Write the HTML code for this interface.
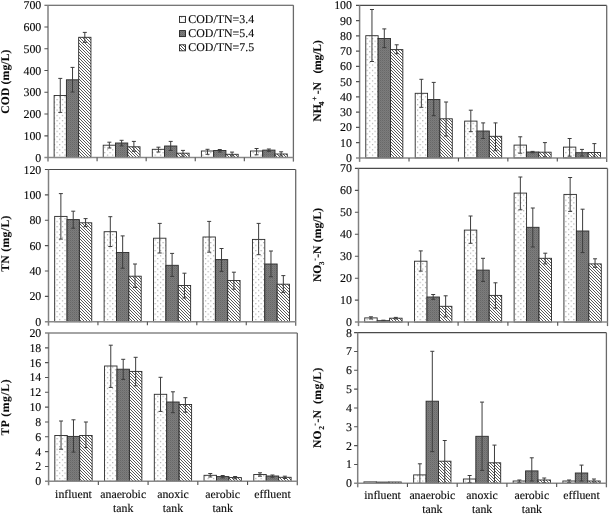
<!DOCTYPE html>
<html><head><meta charset="utf-8"><style>
html,body{margin:0;padding:0;background:#fff;}
svg{display:block;}
text{font-family:"Liberation Serif",serif;fill:#0a0a0a;stroke:#0a0a0a;stroke-width:0.12px;text-rendering:geometricPrecision;}
svg{will-change:transform;}
</style></head><body>
<svg width="609" height="515" viewBox="0 0 609 515">
<defs>
<pattern id="dots" patternUnits="userSpaceOnUse" width="5.3" height="5.3">
<rect width="5.3" height="5.3" fill="#fff"/>
<rect x="1" y="1" width="1" height="1" fill="#8a8a8a"/>
<rect x="3.65" y="3.65" width="1" height="1" fill="#8a8a8a"/>
</pattern>
<pattern id="gray" patternUnits="userSpaceOnUse" width="2" height="2">
<rect width="2" height="2" fill="#7c7c7c"/>
<rect width="1" height="1" fill="#686868"/>
<rect x="1" y="1" width="1" height="1" fill="#747474"/>
</pattern>
<pattern id="hatch" patternUnits="userSpaceOnUse" width="3" height="3">
<rect width="3" height="3" fill="#fff"/>
<path d="M-1 -1L4 4M-1 2L1 4M2 -1L4 1" stroke="#505050" stroke-width="0.95"/>
</pattern>
</defs>
<rect width="609" height="515" fill="#fff"/>
<rect x="54.13" y="95.5" width="12.27" height="62.1" fill="url(#dots)" stroke="#2a2a2a" stroke-width="0.9"/>
<rect x="66.41" y="79.8" width="12.27" height="77.8" fill="url(#gray)" stroke="#2a2a2a" stroke-width="0.9"/>
<rect x="78.67" y="37.3" width="12.27" height="120.3" fill="url(#hatch)" stroke="#2a2a2a" stroke-width="0.9"/>
<path d="M60.27 78.4V112.4M58.27 78.4H62.27M58.27 112.4H62.27" stroke="#3c3c3c" stroke-width="1" fill="none"/>
<path d="M72.54 67.4V92M70.54 67.4H74.54M70.54 92H74.54" stroke="#3c3c3c" stroke-width="1" fill="none"/>
<path d="M84.81 32.4V42.4M82.81 32.4H86.81M82.81 42.4H86.81" stroke="#3c3c3c" stroke-width="1" fill="none"/>
<rect x="103.22" y="145.2" width="12.27" height="12.4" fill="url(#dots)" stroke="#2a2a2a" stroke-width="0.9"/>
<rect x="115.48" y="143" width="12.27" height="14.6" fill="url(#gray)" stroke="#2a2a2a" stroke-width="0.9"/>
<rect x="127.75" y="146.8" width="12.27" height="10.8" fill="url(#hatch)" stroke="#2a2a2a" stroke-width="0.9"/>
<path d="M109.35 142.2V148M107.35 142.2H111.35M107.35 148H111.35" stroke="#3c3c3c" stroke-width="1" fill="none"/>
<path d="M121.62 140.3V145.9M119.62 140.3H123.62M119.62 145.9H123.62" stroke="#3c3c3c" stroke-width="1" fill="none"/>
<path d="M133.89 141.4V151.3M131.89 141.4H135.89M131.89 151.3H135.89" stroke="#3c3c3c" stroke-width="1" fill="none"/>
<rect x="152.29" y="149.3" width="12.27" height="8.3" fill="url(#dots)" stroke="#2a2a2a" stroke-width="0.9"/>
<rect x="164.56" y="146" width="12.27" height="11.6" fill="url(#gray)" stroke="#2a2a2a" stroke-width="0.9"/>
<rect x="176.83" y="153.2" width="12.27" height="4.4" fill="url(#hatch)" stroke="#2a2a2a" stroke-width="0.9"/>
<path d="M158.43 147.2V152M156.43 147.2H160.43M156.43 152H160.43" stroke="#3c3c3c" stroke-width="1" fill="none"/>
<path d="M170.7 141.4V150.4M168.7 141.4H172.7M168.7 150.4H172.7" stroke="#3c3c3c" stroke-width="1" fill="none"/>
<path d="M182.97 150.4V156.2M180.97 150.4H184.97M180.97 156.2H184.97" stroke="#3c3c3c" stroke-width="1" fill="none"/>
<rect x="201.38" y="151" width="12.27" height="6.6" fill="url(#dots)" stroke="#2a2a2a" stroke-width="0.9"/>
<rect x="213.65" y="150.5" width="12.27" height="7.1" fill="url(#gray)" stroke="#2a2a2a" stroke-width="0.9"/>
<rect x="225.91" y="154.3" width="12.27" height="3.3" fill="url(#hatch)" stroke="#2a2a2a" stroke-width="0.9"/>
<path d="M207.51 149.3V154.3M205.51 149.3H209.51M205.51 154.3H209.51" stroke="#3c3c3c" stroke-width="1" fill="none"/>
<path d="M219.78 149.5V152M217.78 149.5H221.78M217.78 152H221.78" stroke="#3c3c3c" stroke-width="1" fill="none"/>
<path d="M232.05 152.1V156M230.05 152.1H234.05M230.05 156H234.05" stroke="#3c3c3c" stroke-width="1" fill="none"/>
<rect x="250.45" y="151" width="12.27" height="6.6" fill="url(#dots)" stroke="#2a2a2a" stroke-width="0.9"/>
<rect x="262.72" y="150.1" width="12.27" height="7.5" fill="url(#gray)" stroke="#2a2a2a" stroke-width="0.9"/>
<rect x="275" y="154" width="12.27" height="3.6" fill="url(#hatch)" stroke="#2a2a2a" stroke-width="0.9"/>
<path d="M256.59 148.5V154.8M254.59 148.5H258.59M254.59 154.8H258.59" stroke="#3c3c3c" stroke-width="1" fill="none"/>
<path d="M268.86 149V151.3M266.86 149H270.86M266.86 151.3H270.86" stroke="#3c3c3c" stroke-width="1" fill="none"/>
<path d="M281.13 151.8V156M279.13 151.8H283.13M279.13 156H283.13" stroke="#3c3c3c" stroke-width="1" fill="none"/>
<path d="M44.4 5.2H293.4" stroke="#4a4a4a" stroke-width="1.15" fill="none"/>
<path d="M293.4 5.2V161.6" stroke="#6a6a6a" stroke-width="1.3" fill="none"/>
<path d="M44.4 157.6H293.4" stroke="#8a8a8a" stroke-width="1.5" fill="none"/>
<path d="M48 5.2V161.6" stroke="#808080" stroke-width="1.5" fill="none"/>
<path d="M44.4 135.83H48M44.4 114.06H48M44.4 92.29H48M44.4 70.51H48M44.4 48.74H48M44.4 26.97H48M97.08 157.6V161.2M146.16 157.6V161.2M195.24 157.6V161.2M244.32 157.6V161.2" stroke="#505050" stroke-width="1.1" fill="none"/>
<text x="41.3" y="161.6" text-anchor="end" font-size="11.9">0</text>
<text x="41.3" y="139.83" text-anchor="end" font-size="11.9">100</text>
<text x="41.3" y="118.06" text-anchor="end" font-size="11.9">200</text>
<text x="41.3" y="96.29" text-anchor="end" font-size="11.9">300</text>
<text x="41.3" y="74.51" text-anchor="end" font-size="11.9">400</text>
<text x="41.3" y="52.74" text-anchor="end" font-size="11.9">500</text>
<text x="41.3" y="30.97" text-anchor="end" font-size="11.9">600</text>
<text x="41.3" y="9.2" text-anchor="end" font-size="11.9">700</text>
<rect x="54.68" y="216.4" width="12.36" height="105.3" fill="url(#dots)" stroke="#2a2a2a" stroke-width="0.9"/>
<rect x="67.04" y="219.6" width="12.36" height="102.1" fill="url(#gray)" stroke="#2a2a2a" stroke-width="0.9"/>
<rect x="79.4" y="222.8" width="12.36" height="98.9" fill="url(#hatch)" stroke="#2a2a2a" stroke-width="0.9"/>
<path d="M60.86 193.6V239.1M58.86 193.6H62.86M58.86 239.1H62.86" stroke="#3c3c3c" stroke-width="1" fill="none"/>
<path d="M73.22 211.2V228.2M71.22 211.2H75.22M71.22 228.2H75.22" stroke="#3c3c3c" stroke-width="1" fill="none"/>
<path d="M85.58 218.6V226.6M83.58 218.6H87.58M83.58 226.6H87.58" stroke="#3c3c3c" stroke-width="1" fill="none"/>
<rect x="104.12" y="231.7" width="12.36" height="90" fill="url(#dots)" stroke="#2a2a2a" stroke-width="0.9"/>
<rect x="116.48" y="252.5" width="12.36" height="69.2" fill="url(#gray)" stroke="#2a2a2a" stroke-width="0.9"/>
<rect x="128.84" y="276.2" width="12.36" height="45.5" fill="url(#hatch)" stroke="#2a2a2a" stroke-width="0.9"/>
<path d="M110.3 216.7V246.5M108.3 216.7H112.3M108.3 246.5H112.3" stroke="#3c3c3c" stroke-width="1" fill="none"/>
<path d="M122.66 235.9V268.2M120.66 235.9H124.66M120.66 268.2H124.66" stroke="#3c3c3c" stroke-width="1" fill="none"/>
<path d="M135.02 264V287.4M133.02 264H137.02M133.02 287.4H137.02" stroke="#3c3c3c" stroke-width="1" fill="none"/>
<rect x="153.56" y="238.2" width="12.36" height="83.5" fill="url(#dots)" stroke="#2a2a2a" stroke-width="0.9"/>
<rect x="165.92" y="265.3" width="12.36" height="56.4" fill="url(#gray)" stroke="#2a2a2a" stroke-width="0.9"/>
<rect x="178.28" y="285.5" width="12.36" height="36.2" fill="url(#hatch)" stroke="#2a2a2a" stroke-width="0.9"/>
<path d="M159.74 223.4V253M157.74 223.4H161.74M157.74 253H161.74" stroke="#3c3c3c" stroke-width="1" fill="none"/>
<path d="M172.1 253.4V276.4M170.1 253.4H174.1M170.1 276.4H174.1" stroke="#3c3c3c" stroke-width="1" fill="none"/>
<path d="M184.46 273.2V298M182.46 273.2H186.46M182.46 298H186.46" stroke="#3c3c3c" stroke-width="1" fill="none"/>
<rect x="203" y="237" width="12.36" height="84.7" fill="url(#dots)" stroke="#2a2a2a" stroke-width="0.9"/>
<rect x="215.36" y="259.6" width="12.36" height="62.1" fill="url(#gray)" stroke="#2a2a2a" stroke-width="0.9"/>
<rect x="227.72" y="280.5" width="12.36" height="41.2" fill="url(#hatch)" stroke="#2a2a2a" stroke-width="0.9"/>
<path d="M209.18 221.4V252.2M207.18 221.4H211.18M207.18 252.2H211.18" stroke="#3c3c3c" stroke-width="1" fill="none"/>
<path d="M221.54 248.5V271.4M219.54 248.5H223.54M219.54 271.4H223.54" stroke="#3c3c3c" stroke-width="1" fill="none"/>
<path d="M233.9 272.2V289.2M231.9 272.2H235.9M231.9 289.2H235.9" stroke="#3c3c3c" stroke-width="1" fill="none"/>
<rect x="252.44" y="239.4" width="12.36" height="82.3" fill="url(#dots)" stroke="#2a2a2a" stroke-width="0.9"/>
<rect x="264.8" y="264" width="12.36" height="57.7" fill="url(#gray)" stroke="#2a2a2a" stroke-width="0.9"/>
<rect x="277.16" y="284.2" width="12.36" height="37.5" fill="url(#hatch)" stroke="#2a2a2a" stroke-width="0.9"/>
<path d="M258.62 223.4V254.7M256.62 223.4H260.62M256.62 254.7H260.62" stroke="#3c3c3c" stroke-width="1" fill="none"/>
<path d="M270.98 251V276.8M268.98 251H272.98M268.98 276.8H272.98" stroke="#3c3c3c" stroke-width="1" fill="none"/>
<path d="M283.34 275.6V292.4M281.34 275.6H285.34M281.34 292.4H285.34" stroke="#3c3c3c" stroke-width="1" fill="none"/>
<path d="M44.9 169.5H295.7" stroke="#4a4a4a" stroke-width="1.15" fill="none"/>
<path d="M295.7 169.5V325.7" stroke="#6a6a6a" stroke-width="1.3" fill="none"/>
<path d="M44.9 321.7H295.7" stroke="#8a8a8a" stroke-width="1.5" fill="none"/>
<path d="M48.5 169.5V325.7" stroke="#808080" stroke-width="1.5" fill="none"/>
<path d="M44.9 296.33H48.5M44.9 270.97H48.5M44.9 245.6H48.5M44.9 220.23H48.5M44.9 194.87H48.5M97.94 321.7V325.3M147.38 321.7V325.3M196.82 321.7V325.3M246.26 321.7V325.3" stroke="#505050" stroke-width="1.1" fill="none"/>
<text x="41.3" y="325.7" text-anchor="end" font-size="11.9">0</text>
<text x="41.3" y="300.33" text-anchor="end" font-size="11.9">20</text>
<text x="41.3" y="274.97" text-anchor="end" font-size="11.9">40</text>
<text x="41.3" y="249.6" text-anchor="end" font-size="11.9">60</text>
<text x="41.3" y="224.23" text-anchor="end" font-size="11.9">80</text>
<text x="41.3" y="198.87" text-anchor="end" font-size="11.9">100</text>
<text x="41.3" y="173.5" text-anchor="end" font-size="11.9">120</text>
<rect x="54.82" y="435.5" width="12.44" height="45.8" fill="url(#dots)" stroke="#2a2a2a" stroke-width="0.9"/>
<rect x="67.25" y="436.4" width="12.44" height="44.9" fill="url(#gray)" stroke="#2a2a2a" stroke-width="0.9"/>
<rect x="79.69" y="435.5" width="12.44" height="45.8" fill="url(#hatch)" stroke="#2a2a2a" stroke-width="0.9"/>
<path d="M61.04 421V449.2M59.04 421H63.04M59.04 449.2H63.04" stroke="#3c3c3c" stroke-width="1" fill="none"/>
<path d="M73.47 419.8V452.1M71.47 419.8H75.47M71.47 452.1H75.47" stroke="#3c3c3c" stroke-width="1" fill="none"/>
<path d="M85.91 422V447.6M83.91 422H87.91M83.91 447.6H87.91" stroke="#3c3c3c" stroke-width="1" fill="none"/>
<rect x="104.56" y="366" width="12.44" height="115.3" fill="url(#dots)" stroke="#2a2a2a" stroke-width="0.9"/>
<rect x="116.99" y="369.2" width="12.44" height="112.1" fill="url(#gray)" stroke="#2a2a2a" stroke-width="0.9"/>
<rect x="129.43" y="371.4" width="12.44" height="109.9" fill="url(#hatch)" stroke="#2a2a2a" stroke-width="0.9"/>
<path d="M110.78 345.2V387.4M108.78 345.2H112.78M108.78 387.4H112.78" stroke="#3c3c3c" stroke-width="1" fill="none"/>
<path d="M123.21 359.3V379.4M121.21 359.3H125.21M121.21 379.4H125.21" stroke="#3c3c3c" stroke-width="1" fill="none"/>
<path d="M135.65 357.3V385.8M133.65 357.3H137.65M133.65 385.8H137.65" stroke="#3c3c3c" stroke-width="1" fill="none"/>
<rect x="154.3" y="394.3" width="12.44" height="87" fill="url(#dots)" stroke="#2a2a2a" stroke-width="0.9"/>
<rect x="166.73" y="402" width="12.44" height="79.3" fill="url(#gray)" stroke="#2a2a2a" stroke-width="0.9"/>
<rect x="179.17" y="404.5" width="12.44" height="76.8" fill="url(#hatch)" stroke="#2a2a2a" stroke-width="0.9"/>
<path d="M160.52 377.3V411.4M158.52 377.3H162.52M158.52 411.4H162.52" stroke="#3c3c3c" stroke-width="1" fill="none"/>
<path d="M172.95 391.8V412.7M170.95 391.8H174.95M170.95 412.7H174.95" stroke="#3c3c3c" stroke-width="1" fill="none"/>
<path d="M185.39 397.7V412.2M183.39 397.7H187.39M183.39 412.2H187.39" stroke="#3c3c3c" stroke-width="1" fill="none"/>
<rect x="204.04" y="475.3" width="12.44" height="6" fill="url(#dots)" stroke="#2a2a2a" stroke-width="0.9"/>
<rect x="216.47" y="476.6" width="12.44" height="4.7" fill="url(#gray)" stroke="#2a2a2a" stroke-width="0.9"/>
<rect x="228.91" y="477.6" width="12.44" height="3.7" fill="url(#hatch)" stroke="#2a2a2a" stroke-width="0.9"/>
<path d="M210.25 473.5V477M208.25 473.5H212.25M208.25 477H212.25" stroke="#3c3c3c" stroke-width="1" fill="none"/>
<path d="M222.69 475.5V477.8M220.69 475.5H224.69M220.69 477.8H224.69" stroke="#3c3c3c" stroke-width="1" fill="none"/>
<path d="M235.12 476.5V478.8M233.12 476.5H237.12M233.12 478.8H237.12" stroke="#3c3c3c" stroke-width="1" fill="none"/>
<rect x="253.78" y="474.5" width="12.44" height="6.8" fill="url(#dots)" stroke="#2a2a2a" stroke-width="0.9"/>
<rect x="266.21" y="476" width="12.44" height="5.3" fill="url(#gray)" stroke="#2a2a2a" stroke-width="0.9"/>
<rect x="278.65" y="477.3" width="12.44" height="4" fill="url(#hatch)" stroke="#2a2a2a" stroke-width="0.9"/>
<path d="M260 472.8V476.2M258 472.8H262M258 476.2H262" stroke="#3c3c3c" stroke-width="1" fill="none"/>
<path d="M272.43 475V477.2M270.43 475H274.43M270.43 477.2H274.43" stroke="#3c3c3c" stroke-width="1" fill="none"/>
<path d="M284.86 476.2V478.5M282.86 476.2H286.86M282.86 478.5H286.86" stroke="#3c3c3c" stroke-width="1" fill="none"/>
<path d="M45 333H297.3" stroke="#4a4a4a" stroke-width="1.15" fill="none"/>
<path d="M297.3 333V485.3" stroke="#6a6a6a" stroke-width="1.3" fill="none"/>
<path d="M45 481.3H297.3" stroke="#8a8a8a" stroke-width="1.5" fill="none"/>
<path d="M48.6 333V485.3" stroke="#808080" stroke-width="1.5" fill="none"/>
<path d="M45 466.47H48.6M45 451.64H48.6M45 436.81H48.6M45 421.98H48.6M45 407.15H48.6M45 392.32H48.6M45 377.49H48.6M45 362.66H48.6M45 347.83H48.6M98.34 481.3V484.9M148.08 481.3V484.9M197.82 481.3V484.9M247.56 481.3V484.9" stroke="#505050" stroke-width="1.1" fill="none"/>
<text x="41.3" y="485.3" text-anchor="end" font-size="11.9">0</text>
<text x="41.3" y="470.47" text-anchor="end" font-size="11.9">2</text>
<text x="41.3" y="455.64" text-anchor="end" font-size="11.9">4</text>
<text x="41.3" y="440.81" text-anchor="end" font-size="11.9">6</text>
<text x="41.3" y="425.98" text-anchor="end" font-size="11.9">8</text>
<text x="41.3" y="411.15" text-anchor="end" font-size="11.9">10</text>
<text x="41.3" y="396.32" text-anchor="end" font-size="11.9">12</text>
<text x="41.3" y="381.49" text-anchor="end" font-size="11.9">14</text>
<text x="41.3" y="366.66" text-anchor="end" font-size="11.9">16</text>
<text x="41.3" y="351.83" text-anchor="end" font-size="11.9">18</text>
<text x="41.3" y="337" text-anchor="end" font-size="11.9">20</text>
<rect x="365.78" y="35.7" width="12.36" height="122.2" fill="url(#dots)" stroke="#2a2a2a" stroke-width="0.9"/>
<rect x="378.13" y="38.5" width="12.36" height="119.4" fill="url(#gray)" stroke="#2a2a2a" stroke-width="0.9"/>
<rect x="390.49" y="49.6" width="12.36" height="108.3" fill="url(#hatch)" stroke="#2a2a2a" stroke-width="0.9"/>
<path d="M371.96 9.5V61.5M369.96 9.5H373.96M369.96 61.5H373.96" stroke="#3c3c3c" stroke-width="1" fill="none"/>
<path d="M384.31 28.9V47.6M382.31 28.9H386.31M382.31 47.6H386.31" stroke="#3c3c3c" stroke-width="1" fill="none"/>
<path d="M396.67 44.8V53.7M394.67 44.8H398.67M394.67 53.7H398.67" stroke="#3c3c3c" stroke-width="1" fill="none"/>
<rect x="415.2" y="93.3" width="12.36" height="64.6" fill="url(#dots)" stroke="#2a2a2a" stroke-width="0.9"/>
<rect x="427.55" y="99.5" width="12.36" height="58.4" fill="url(#gray)" stroke="#2a2a2a" stroke-width="0.9"/>
<rect x="439.91" y="118.8" width="12.36" height="39.1" fill="url(#hatch)" stroke="#2a2a2a" stroke-width="0.9"/>
<path d="M421.38 79.3V107.3M419.38 79.3H423.38M419.38 107.3H423.38" stroke="#3c3c3c" stroke-width="1" fill="none"/>
<path d="M433.73 82.4V115.7M431.73 82.4H435.73M431.73 115.7H435.73" stroke="#3c3c3c" stroke-width="1" fill="none"/>
<path d="M446.09 102V136M444.09 102H448.09M444.09 136H448.09" stroke="#3c3c3c" stroke-width="1" fill="none"/>
<rect x="464.62" y="121.1" width="12.36" height="36.8" fill="url(#dots)" stroke="#2a2a2a" stroke-width="0.9"/>
<rect x="476.97" y="131" width="12.36" height="26.9" fill="url(#gray)" stroke="#2a2a2a" stroke-width="0.9"/>
<rect x="489.33" y="136.3" width="12.36" height="21.6" fill="url(#hatch)" stroke="#2a2a2a" stroke-width="0.9"/>
<path d="M470.8 110.2V131.7M468.8 110.2H472.8M468.8 131.7H472.8" stroke="#3c3c3c" stroke-width="1" fill="none"/>
<path d="M483.15 122.9V138.5M481.15 122.9H485.15M481.15 138.5H485.15" stroke="#3c3c3c" stroke-width="1" fill="none"/>
<path d="M495.51 122.9V150.7M493.51 122.9H497.51M493.51 150.7H497.51" stroke="#3c3c3c" stroke-width="1" fill="none"/>
<rect x="514.04" y="145.1" width="12.36" height="12.8" fill="url(#dots)" stroke="#2a2a2a" stroke-width="0.9"/>
<rect x="526.39" y="152" width="12.36" height="5.9" fill="url(#gray)" stroke="#2a2a2a" stroke-width="0.9"/>
<rect x="538.75" y="152.2" width="12.36" height="5.7" fill="url(#hatch)" stroke="#2a2a2a" stroke-width="0.9"/>
<path d="M520.22 136.8V153.2M518.22 136.8H522.22M518.22 153.2H522.22" stroke="#3c3c3c" stroke-width="1" fill="none"/>
<path d="M532.57 151.4V152.8M530.57 151.4H534.57M530.57 152.8H534.57" stroke="#3c3c3c" stroke-width="1" fill="none"/>
<path d="M544.93 142.6V157M542.93 142.6H546.93M542.93 157H546.93" stroke="#3c3c3c" stroke-width="1" fill="none"/>
<rect x="563.46" y="147.1" width="12.36" height="10.8" fill="url(#dots)" stroke="#2a2a2a" stroke-width="0.9"/>
<rect x="575.81" y="152.7" width="12.36" height="5.2" fill="url(#gray)" stroke="#2a2a2a" stroke-width="0.9"/>
<rect x="588.17" y="152.5" width="12.36" height="5.4" fill="url(#hatch)" stroke="#2a2a2a" stroke-width="0.9"/>
<path d="M569.63 138.5V156.2M567.63 138.5H571.63M567.63 156.2H571.63" stroke="#3c3c3c" stroke-width="1" fill="none"/>
<path d="M581.99 149.4V156M579.99 149.4H583.99M579.99 156H583.99" stroke="#3c3c3c" stroke-width="1" fill="none"/>
<path d="M594.35 143.6V157M592.35 143.6H596.35M592.35 157H596.35" stroke="#3c3c3c" stroke-width="1" fill="none"/>
<path d="M356 5.4H606.7" stroke="#4a4a4a" stroke-width="1.15" fill="none"/>
<path d="M606.7 5.4V161.9" stroke="#6a6a6a" stroke-width="1.3" fill="none"/>
<path d="M356 157.9H606.7" stroke="#8a8a8a" stroke-width="1.5" fill="none"/>
<path d="M359.6 5.4V161.9" stroke="#808080" stroke-width="1.5" fill="none"/>
<path d="M356 142.65H359.6M356 127.4H359.6M356 112.15H359.6M356 96.9H359.6M356 81.65H359.6M356 66.4H359.6M356 51.15H359.6M356 35.9H359.6M356 20.65H359.6M409.02 157.9V161.5M458.44 157.9V161.5M507.86 157.9V161.5M557.28 157.9V161.5" stroke="#505050" stroke-width="1.1" fill="none"/>
<text x="352" y="161.9" text-anchor="end" font-size="11.9">0</text>
<text x="352" y="146.65" text-anchor="end" font-size="11.9">10</text>
<text x="352" y="131.4" text-anchor="end" font-size="11.9">20</text>
<text x="352" y="116.15" text-anchor="end" font-size="11.9">30</text>
<text x="352" y="100.9" text-anchor="end" font-size="11.9">40</text>
<text x="352" y="85.65" text-anchor="end" font-size="11.9">50</text>
<text x="352" y="70.4" text-anchor="end" font-size="11.9">60</text>
<text x="352" y="55.15" text-anchor="end" font-size="11.9">70</text>
<text x="352" y="39.9" text-anchor="end" font-size="11.9">80</text>
<text x="352" y="24.65" text-anchor="end" font-size="11.9">90</text>
<text x="352" y="9.4" text-anchor="end" font-size="11.9">100</text>
<rect x="364.73" y="317.9" width="12.45" height="4.2" fill="url(#dots)" stroke="#2a2a2a" stroke-width="0.9"/>
<rect x="377.18" y="320.7" width="12.45" height="1.4" fill="url(#gray)" stroke="#2a2a2a" stroke-width="0.9"/>
<rect x="389.62" y="318.2" width="12.45" height="3.9" fill="url(#hatch)" stroke="#2a2a2a" stroke-width="0.9"/>
<path d="M370.95 316.8V319M368.95 316.8H372.95M368.95 319H372.95" stroke="#3c3c3c" stroke-width="1" fill="none"/>
<path d="M383.4 320.2V321.2M381.4 320.2H385.4M381.4 321.2H385.4" stroke="#3c3c3c" stroke-width="1" fill="none"/>
<path d="M395.85 317.4V319M393.85 317.4H397.85M393.85 319H397.85" stroke="#3c3c3c" stroke-width="1" fill="none"/>
<rect x="414.53" y="261.2" width="12.45" height="60.9" fill="url(#dots)" stroke="#2a2a2a" stroke-width="0.9"/>
<rect x="426.98" y="297" width="12.45" height="25.1" fill="url(#gray)" stroke="#2a2a2a" stroke-width="0.9"/>
<rect x="439.43" y="306.3" width="12.45" height="15.8" fill="url(#hatch)" stroke="#2a2a2a" stroke-width="0.9"/>
<path d="M420.75 250.9V271.1M418.75 250.9H422.75M418.75 271.1H422.75" stroke="#3c3c3c" stroke-width="1" fill="none"/>
<path d="M433.2 294.5V299.3M431.2 294.5H435.2M431.2 299.3H435.2" stroke="#3c3c3c" stroke-width="1" fill="none"/>
<path d="M445.65 295.8V316.9M443.65 295.8H447.65M443.65 316.9H447.65" stroke="#3c3c3c" stroke-width="1" fill="none"/>
<rect x="464.33" y="230.1" width="12.45" height="92" fill="url(#dots)" stroke="#2a2a2a" stroke-width="0.9"/>
<rect x="476.78" y="270.1" width="12.45" height="52" fill="url(#gray)" stroke="#2a2a2a" stroke-width="0.9"/>
<rect x="489.23" y="295.4" width="12.45" height="26.7" fill="url(#hatch)" stroke="#2a2a2a" stroke-width="0.9"/>
<path d="M470.55 216V243.3M468.55 216H472.55M468.55 243.3H472.55" stroke="#3c3c3c" stroke-width="1" fill="none"/>
<path d="M483 258.3V281.4M481 258.3H485M481 281.4H485" stroke="#3c3c3c" stroke-width="1" fill="none"/>
<path d="M495.45 282.8V308.1M493.45 282.8H497.45M493.45 308.1H497.45" stroke="#3c3c3c" stroke-width="1" fill="none"/>
<rect x="514.12" y="193.1" width="12.45" height="129" fill="url(#dots)" stroke="#2a2a2a" stroke-width="0.9"/>
<rect x="526.58" y="227.3" width="12.45" height="94.8" fill="url(#gray)" stroke="#2a2a2a" stroke-width="0.9"/>
<rect x="539.02" y="258.3" width="12.45" height="63.8" fill="url(#hatch)" stroke="#2a2a2a" stroke-width="0.9"/>
<path d="M520.35 177V209.8M518.35 177H522.35M518.35 209.8H522.35" stroke="#3c3c3c" stroke-width="1" fill="none"/>
<path d="M532.8 208V247M530.8 208H534.8M530.8 247H534.8" stroke="#3c3c3c" stroke-width="1" fill="none"/>
<path d="M545.25 253.2V263.9M543.25 253.2H547.25M543.25 263.9H547.25" stroke="#3c3c3c" stroke-width="1" fill="none"/>
<rect x="563.93" y="194.4" width="12.45" height="127.7" fill="url(#dots)" stroke="#2a2a2a" stroke-width="0.9"/>
<rect x="576.38" y="231" width="12.45" height="91.1" fill="url(#gray)" stroke="#2a2a2a" stroke-width="0.9"/>
<rect x="588.83" y="263.9" width="12.45" height="58.2" fill="url(#hatch)" stroke="#2a2a2a" stroke-width="0.9"/>
<path d="M570.15 177.5V211.4M568.15 177.5H572.15M568.15 211.4H572.15" stroke="#3c3c3c" stroke-width="1" fill="none"/>
<path d="M582.6 209.2V252.6M580.6 209.2H584.6M580.6 252.6H584.6" stroke="#3c3c3c" stroke-width="1" fill="none"/>
<path d="M595.05 258.8V267.3M593.05 258.8H597.05M593.05 267.3H597.05" stroke="#3c3c3c" stroke-width="1" fill="none"/>
<path d="M354.9 168.4H607.5" stroke="#4a4a4a" stroke-width="1.15" fill="none"/>
<path d="M607.5 168.4V326.1" stroke="#6a6a6a" stroke-width="1.3" fill="none"/>
<path d="M354.9 322.1H607.5" stroke="#8a8a8a" stroke-width="1.5" fill="none"/>
<path d="M358.5 168.4V326.1" stroke="#808080" stroke-width="1.5" fill="none"/>
<path d="M354.9 300.14H358.5M354.9 278.19H358.5M354.9 256.23H358.5M354.9 234.27H358.5M354.9 212.31H358.5M354.9 190.36H358.5M408.3 322.1V325.7M458.1 322.1V325.7M507.9 322.1V325.7M557.7 322.1V325.7" stroke="#505050" stroke-width="1.1" fill="none"/>
<text x="352" y="326.1" text-anchor="end" font-size="11.9">0</text>
<text x="352" y="304.14" text-anchor="end" font-size="11.9">10</text>
<text x="352" y="282.19" text-anchor="end" font-size="11.9">20</text>
<text x="352" y="260.23" text-anchor="end" font-size="11.9">30</text>
<text x="352" y="238.27" text-anchor="end" font-size="11.9">40</text>
<text x="352" y="216.31" text-anchor="end" font-size="11.9">50</text>
<text x="352" y="194.36" text-anchor="end" font-size="11.9">60</text>
<text x="352" y="172.4" text-anchor="end" font-size="11.9">70</text>
<rect x="363.92" y="481.9" width="12.43" height="1.4" fill="url(#dots)" stroke="#2a2a2a" stroke-width="0.9"/>
<rect x="376.35" y="482.1" width="12.43" height="1.2" fill="url(#gray)" stroke="#2a2a2a" stroke-width="0.9"/>
<rect x="388.79" y="482" width="12.43" height="1.3" fill="url(#hatch)" stroke="#2a2a2a" stroke-width="0.9"/>
<rect x="413.66" y="474.9" width="12.43" height="8.4" fill="url(#dots)" stroke="#2a2a2a" stroke-width="0.9"/>
<rect x="426.09" y="401.2" width="12.43" height="82.1" fill="url(#gray)" stroke="#2a2a2a" stroke-width="0.9"/>
<rect x="438.53" y="461.2" width="12.43" height="22.1" fill="url(#hatch)" stroke="#2a2a2a" stroke-width="0.9"/>
<path d="M419.87 463.8V483.3M417.87 463.8H421.87M417.87 483.3H421.87" stroke="#3c3c3c" stroke-width="1" fill="none"/>
<path d="M432.31 351.3V451.6M430.31 351.3H434.31M430.31 451.6H434.31" stroke="#3c3c3c" stroke-width="1" fill="none"/>
<path d="M444.74 440.5V483.3M442.74 440.5H446.74M442.74 483.3H446.74" stroke="#3c3c3c" stroke-width="1" fill="none"/>
<rect x="463.4" y="479" width="12.43" height="4.3" fill="url(#dots)" stroke="#2a2a2a" stroke-width="0.9"/>
<rect x="475.83" y="436.3" width="12.43" height="47" fill="url(#gray)" stroke="#2a2a2a" stroke-width="0.9"/>
<rect x="488.27" y="462.8" width="12.43" height="20.5" fill="url(#hatch)" stroke="#2a2a2a" stroke-width="0.9"/>
<path d="M469.61 475.5V482.5M467.61 475.5H471.61M467.61 482.5H471.61" stroke="#3c3c3c" stroke-width="1" fill="none"/>
<path d="M482.05 402.1V470.4M480.05 402.1H484.05M480.05 470.4H484.05" stroke="#3c3c3c" stroke-width="1" fill="none"/>
<path d="M494.48 445.1V483M492.48 445.1H496.48M492.48 483H496.48" stroke="#3c3c3c" stroke-width="1" fill="none"/>
<rect x="513.14" y="481" width="12.43" height="2.3" fill="url(#dots)" stroke="#2a2a2a" stroke-width="0.9"/>
<rect x="525.57" y="470.9" width="12.43" height="12.4" fill="url(#gray)" stroke="#2a2a2a" stroke-width="0.9"/>
<rect x="538.01" y="480" width="12.43" height="3.3" fill="url(#hatch)" stroke="#2a2a2a" stroke-width="0.9"/>
<path d="M519.35 480V482.5M517.35 480H521.35M517.35 482.5H521.35" stroke="#3c3c3c" stroke-width="1" fill="none"/>
<path d="M531.79 457.8V481M529.79 457.8H533.79M529.79 481H533.79" stroke="#3c3c3c" stroke-width="1" fill="none"/>
<path d="M544.22 478V482.5M542.22 478H546.22M542.22 482.5H546.22" stroke="#3c3c3c" stroke-width="1" fill="none"/>
<rect x="562.88" y="481" width="12.43" height="2.3" fill="url(#dots)" stroke="#2a2a2a" stroke-width="0.9"/>
<rect x="575.31" y="473" width="12.43" height="10.3" fill="url(#gray)" stroke="#2a2a2a" stroke-width="0.9"/>
<rect x="587.75" y="481" width="12.43" height="2.3" fill="url(#hatch)" stroke="#2a2a2a" stroke-width="0.9"/>
<path d="M569.09 480V482.5M567.09 480H571.09M567.09 482.5H571.09" stroke="#3c3c3c" stroke-width="1" fill="none"/>
<path d="M581.53 465.1V481M579.53 465.1H583.53M579.53 481H583.53" stroke="#3c3c3c" stroke-width="1" fill="none"/>
<path d="M593.96 479V483M591.96 479H595.96M591.96 483H595.96" stroke="#3c3c3c" stroke-width="1" fill="none"/>
<path d="M354.1 332.6H606.4" stroke="#4a4a4a" stroke-width="1.15" fill="none"/>
<path d="M606.4 332.6V487.3" stroke="#6a6a6a" stroke-width="1.3" fill="none"/>
<path d="M354.1 483.3H606.4" stroke="#8a8a8a" stroke-width="1.5" fill="none"/>
<path d="M357.7 332.6V487.3" stroke="#808080" stroke-width="1.5" fill="none"/>
<path d="M354.1 464.46H357.7M354.1 445.62H357.7M354.1 426.79H357.7M354.1 407.95H357.7M354.1 389.11H357.7M354.1 370.28H357.7M354.1 351.44H357.7M407.44 483.3V486.9M457.18 483.3V486.9M506.92 483.3V486.9M556.66 483.3V486.9" stroke="#505050" stroke-width="1.1" fill="none"/>
<text x="352" y="487.3" text-anchor="end" font-size="11.9">0</text>
<text x="352" y="468.46" text-anchor="end" font-size="11.9">1</text>
<text x="352" y="449.62" text-anchor="end" font-size="11.9">2</text>
<text x="352" y="430.79" text-anchor="end" font-size="11.9">3</text>
<text x="352" y="411.95" text-anchor="end" font-size="11.9">4</text>
<text x="352" y="393.11" text-anchor="end" font-size="11.9">5</text>
<text x="352" y="374.28" text-anchor="end" font-size="11.9">6</text>
<text x="352" y="355.44" text-anchor="end" font-size="11.9">7</text>
<text x="352" y="336.6" text-anchor="end" font-size="11.9">8</text>
<text transform="translate(9.4,113.7) rotate(-90)" text-anchor="start" font-weight="bold" font-size="11.6" textLength="64.2">COD (mg/L)</text>
<text transform="translate(9,271.8) rotate(-90)" text-anchor="start" font-weight="bold" font-size="11.6" textLength="56.2">TN (mg/L)</text>
<text transform="translate(9,435.6) rotate(-90)" text-anchor="start" font-weight="bold" font-size="11.6" textLength="56.2">TP (mg/L)</text>
<text transform="translate(320.8,121.7) rotate(-90)" text-anchor="start" font-weight="bold" font-size="11.6">NH</text>
<text transform="translate(323.9,103.5) rotate(-90)" text-anchor="middle" font-weight="bold" font-size="7.6">4</text>
<text transform="translate(316.5,98.6) rotate(-90)" text-anchor="middle" font-weight="bold" font-size="7.6">+</text>
<text transform="translate(320.8,94.3) rotate(-90)" text-anchor="start" font-weight="bold" font-size="11.6">-N</text>
<text transform="translate(320.8,73.6) rotate(-90)" text-anchor="start" font-weight="bold" font-size="11.6" textLength="33.4">(mg/L)</text>
<text transform="translate(320.8,282.1) rotate(-90)" text-anchor="start" font-weight="bold" font-size="11.6">NO</text>
<text transform="translate(323.9,263.4) rotate(-90)" text-anchor="middle" font-weight="bold" font-size="7.6">3</text>
<text transform="translate(317.2,259.6) rotate(-90)" text-anchor="middle" font-weight="bold" font-size="7.6">-</text>
<text transform="translate(320.8,257.8) rotate(-90)" text-anchor="start" font-weight="bold" font-size="11.6">-N</text>
<text transform="translate(320.8,242.2) rotate(-90)" text-anchor="start" font-weight="bold" font-size="11.6" textLength="34.4">(mg/L)</text>
<text transform="translate(320.8,447.9) rotate(-90)" text-anchor="start" font-weight="bold" font-size="11.6">NO</text>
<text transform="translate(323.9,427.8) rotate(-90)" text-anchor="middle" font-weight="bold" font-size="7.6">2</text>
<text transform="translate(317.2,424.5) rotate(-90)" text-anchor="middle" font-weight="bold" font-size="7.6">-</text>
<text transform="translate(320.8,422.4) rotate(-90)" text-anchor="start" font-weight="bold" font-size="11.6">-N</text>
<text transform="translate(320.8,403.9) rotate(-90)" text-anchor="start" font-weight="bold" font-size="11.6" textLength="36.2">(mg/L)</text>
<text x="73.47" y="498.4" text-anchor="middle" font-size="11.8">influent</text>
<text x="123.21" y="498.4" text-anchor="middle" font-size="11.8">anaerobic</text>
<text x="123.21" y="511.79999999999995" text-anchor="middle" font-size="11.8">tank</text>
<text x="172.95" y="498.4" text-anchor="middle" font-size="11.8">anoxic</text>
<text x="172.95" y="511.79999999999995" text-anchor="middle" font-size="11.8">tank</text>
<text x="222.69" y="498.4" text-anchor="middle" font-size="11.8">aerobic</text>
<text x="222.69" y="511.79999999999995" text-anchor="middle" font-size="11.8">tank</text>
<text x="272.43" y="498.4" text-anchor="middle" font-size="11.8">effluent</text>
<text x="382.57" y="499.4" text-anchor="middle" font-size="11.8">influent</text>
<text x="432.31" y="499.4" text-anchor="middle" font-size="11.8">anaerobic</text>
<text x="432.31" y="512.8" text-anchor="middle" font-size="11.8">tank</text>
<text x="482.05" y="499.4" text-anchor="middle" font-size="11.8">anoxic</text>
<text x="482.05" y="512.8" text-anchor="middle" font-size="11.8">tank</text>
<text x="531.79" y="499.4" text-anchor="middle" font-size="11.8">aerobic</text>
<text x="531.79" y="512.8" text-anchor="middle" font-size="11.8">tank</text>
<text x="581.53" y="499.4" text-anchor="middle" font-size="11.8">effluent</text>
<rect x="179.5" y="16.4" width="6" height="6" fill="url(#dots)" stroke="#222" stroke-width="0.9"/>
<text x="188.3" y="23" font-size="11.9">COD/TN=3.4</text>
<rect x="179.5" y="30.6" width="6" height="6" fill="url(#gray)" stroke="#222" stroke-width="0.9"/>
<text x="188.3" y="37.2" font-size="11.9">COD/TN=5.4</text>
<rect x="179.5" y="44.8" width="6" height="6" fill="url(#hatch)" stroke="#222" stroke-width="0.9"/>
<text x="188.3" y="51.4" font-size="11.9">COD/TN=7.5</text>
</svg>
</body></html>
